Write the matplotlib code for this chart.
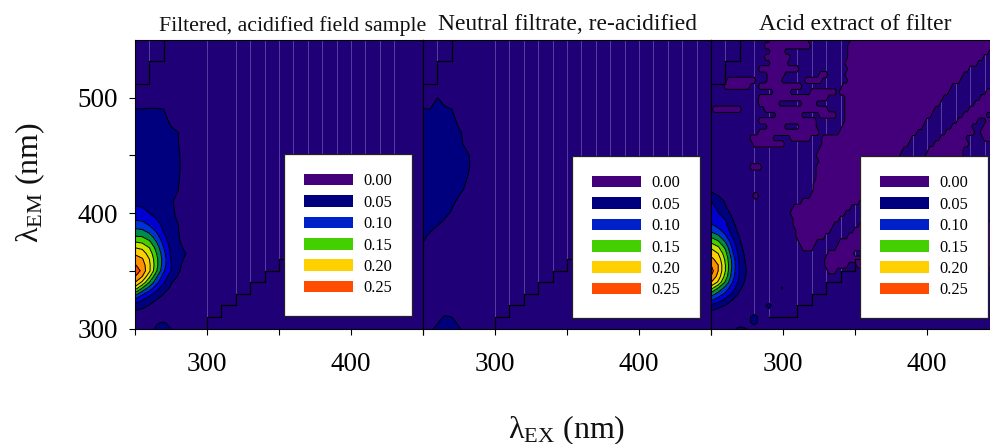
import numpy as np
import matplotlib
matplotlib.use("Agg")
import matplotlib.pyplot as plt
from matplotlib.patches import Patch

plt.rcParams['font.family'] = ['Liberation Serif', 'DejaVu Serif']
plt.rcParams['mathtext.fontset'] = 'custom'
plt.rcParams['mathtext.rm'] = 'Liberation Serif'
plt.rcParams['mathtext.it'] = 'Liberation Serif'

titles = ["Filtered, acidified field sample", "Neutral filtrate, re-acidified", "Acid extract of filter"]
legend_labels = ["0.00", "0.05", "0.10", "0.15", "0.20", "0.25"]
legend_colors = ["#44007a", "#00007f", "#0020c8", "#44d000", "#ffd000", "#ff4c00"]

levels = [0.05, 0.075, 0.10, 0.125, 0.15, 0.175, 0.20, 0.225, 0.25, 0.30]
band_colors = ["#00007f", "#0000d0", "#0030d8", "#008a50", "#44d000",
               "#c8e800", "#ffd000", "#ff9000", "#ff4c00"]
bg_color = "#1f0077"
zero_color = "#44007a"

# field sample, ex 250..290
ex_field = [250, 255, 260, 265, 270, 275, 280, 285, 290]
em_field = [300, 305, 310, 315, 320, 325, 330, 335, 340, 345, 350, 355, 360, 365, 370, 375, 380, 385,
            390, 395, 400, 410, 420, 430, 440, 450, 460, 470, 480, 490, 500, 510]
z_field = [
    [.030, .035, .040, .053, .056, .050, .030, .020, .020],
    [.030, .035, .040, .048, .052, .042, .030, .020, .020],
    [.036, .036, .036, .035, .034, .030, .025, .020, .020],
    [.048, .044, .040, .036, .032, .028, .025, .020, .020],
    [.066, .058, .049, .042, .036, .030, .026, .020, .020],
    [.095, .078, .062, .050, .042, .034, .028, .020, .020],
    [.140, .105, .085, .066, .050, .040, .030, .020, .020],
    [.190, .150, .115, .085, .060, .046, .036, .022, .020],
    [.225, .195, .150, .108, .078, .052, .040, .025, .020],
    [.250, .225, .180, .128, .088, .063, .048, .030, .020],
    [.270, .242, .205, .152, .103, .075, .053, .040, .020],
    [.252, .238, .205, .158, .110, .076, .056, .042, .020],
    [.235, .228, .200, .157, .112, .074, .058, .046, .022],
    [.222, .212, .190, .150, .108, .070, .059, .051, .025],
    [.200, .195, .175, .140, .100, .067, .057, .045, .022],
    [.175, .170, .155, .125, .090, .063, .054, .040, .020],
    [.150, .148, .135, .110, .080, .060, .052, .038, .020],
    [.132, .128, .115, .095, .072, .058, .051, .036, .020],
    [.110, .108, .098, .084, .068, .056, .050, .036, .020],
    [.097, .095, .085, .075, .065, .055, .048, .034, .020],
    [.085, .082, .075, .069, .062, .053, .047, .034, .020],
    [.070, .068, .064, .060, .056, .052, .046, .034, .020],
    [.066, .064, .062, .059, .056, .053, .050, .035, .020],
    [.064, .063, .061, .059, .057, .055, .052, .040, .020],
    [.062, .062, .060, .059, .057, .055, .053, .042, .020],
    [.060, .060, .059, .058, .057, .055, .053, .040, .020],
    [.058, .058, .057, .056, .055, .054, .051, .035, .020],
    [.056, .056, .056, .055, .054, .052, .050, .030, .020],
    [.053, .053, .054, .054, .053, .048, .030, .020, .020],
    [.051, .051, .052, .052, .050, .036, .020, .020, .020],
    [.025, .025, .030, .030, .025, .020, .020, .020, .020],
    [.020, .020, .020, .020, .020, .020, .020, .020, .020],
]

# neutral filtrate
ex_neutral = [250, 255, 260, 265, 270, 275, 280, 285, 290]
em_neutral = [300, 310, 320, 330, 340, 350, 360, 370, 380, 390, 400, 410, 420, 430, 440, 450,
              460, 470, 480, 490, 500, 510]
z_neutral = [
    [.030, .045, .055, .060, .060, .052, .040, .020, .020],
    [.020, .030, .042, .052, .050, .040, .025, .020, .020],
    [.020, .025, .030, .032, .030, .025, .020, .020, .020],
    [.030, .030, .030, .030, .030, .025, .020, .020, .020],
    [.032, .030, .030, .030, .030, .025, .020, .020, .020],
    [.035, .032, .030, .030, .030, .025, .020, .020, .020],
    [.040, .035, .030, .030, .030, .025, .020, .020, .020],
    [.047, .040, .035, .030, .030, .025, .020, .020, .020],
    [.054, .046, .040, .035, .030, .025, .020, .020, .020],
    [.062, .057, .051, .045, .035, .028, .020, .020, .020],
    [.068, .064, .060, .055, .048, .035, .025, .020, .020],
    [.070, .068, .065, .060, .054, .046, .030, .020, .020],
    [.070, .068, .066, .062, .058, .054, .047, .025, .020],
    [.070, .068, .066, .063, .060, .056, .051, .042, .020],
    [.068, .066, .065, .063, .060, .057, .054, .046, .020],
    [.066, .064, .063, .062, .060, .057, .053, .046, .020],
    [.064, .063, .062, .060, .058, .053, .047, .030, .020],
    [.062, .062, .060, .058, .056, .052, .046, .025, .020],
    [.058, .058, .058, .057, .055, .046, .030, .020, .020],
    [.051, .050, .055, .052, .050, .030, .020, .020, .020],
    [.020, .020, .050, .045, .030, .020, .020, .020, .020],
    [.020, .020, .020, .020, .020, .020, .020, .020, .020],
]

# acid extract, peak part
ex_acid = [250, 255, 260, 265, 270, 275, 280, 285, 290, 295, 300]
em_acid = [300, 305, 310, 315, 320, 325, 330, 335, 340, 345, 350, 355, 360, 365, 370, 375, 380, 385,
           390, 395, 400, 405, 410, 415, 420]
z_acid = [
    [.030, .030, .030, .045, .056, .050, .035, .030, .030, .030, .030],
    [.030, .030, .030, .030, .035, .040, .060, .035, .030, .030, .030],
    [.032, .030, .030, .030, .030, .035, .065, .035, .030, .030, .030],
    [.048, .040, .035, .030, .030, .030, .030, .030, .040, .030, .030],
    [.070, .060, .050, .040, .030, .030, .030, .030, .062, .030, .030],
    [.105, .090, .070, .050, .035, .030, .030, .030, .030, .030, .030],
    [.140, .115, .095, .070, .045, .030, .030, .030, .030, .030, .030],
    [.185, .150, .115, .085, .055, .035, .030, .030, .030, .030, .056],
    [.225, .195, .145, .100, .065, .040, .030, .030, .030, .030, .030],
    [.250, .215, .165, .110, .070, .045, .030, .030, .030, .030, .030],
    [.262, .225, .175, .115, .072, .048, .030, .030, .030, .030, .030],
    [.250, .225, .175, .118, .070, .046, .030, .030, .030, .030, .030],
    [.232, .215, .170, .115, .067, .042, .030, .030, .030, .030, .030],
    [.217, .200, .160, .105, .063, .040, .030, .030, .030, .030, .030],
    [.197, .180, .145, .095, .058, .036, .030, .030, .030, .030, .030],
    [.170, .155, .125, .085, .052, .033, .030, .030, .030, .030, .030],
    [.145, .130, .105, .072, .048, .030, .030, .030, .030, .030, .030],
    [.118, .108, .088, .064, .040, .030, .030, .030, .030, .030, .030],
    [.103, .090, .080, .057, .035, .030, .030, .030, .030, .030, .030],
    [.093, .083, .074, .050, .030, .030, .030, .030, .030, .030, .030],
    [.088, .076, .056, .046, .030, .030, .030, .030, .030, .030, .030],
    [.085, .068, .052, .040, .030, .030, .030, .030, .030, .030, .030],
    [.077, .062, .048, .036, .030, .030, .030, .030, .030, .030, .030],
    [.062, .050, .040, .030, .030, .030, .030, .030, .030, .030, .030],
    [.045, .035, .030, .030, .030, .030, .030, .030, .030, .030, .030],
]

# acid extract, ex ranges where the signal is below zero, per em row
acid_zero_spans = {
    550: [(292, 316), (347, 450)],
    545: [(288, 318), (345, 450)],
    540: [(292, 300), (346, 443)],
    535: [(288, 304), (346, 439)],
    530: [(292, 302), (344, 434)],
    525: [(284, 310), (345, 429)],
    520: [(290, 300), (326, 330), (344, 425)],
    515: [(262, 280), (290, 298), (316, 326), (345, 422)],
    510: [(260, 276), (284, 312), (342, 417), (446, 450)],
    505: [(294, 305), (320, 336), (340, 414), (441, 450)],
    500: [(284, 330), (344, 411), (438, 450)],
    495: [(284, 296), (314, 322), (344, 409), (434, 450)],
    490: [(252, 270), (288, 330), (344, 405), (430, 450)],
    485: [(296, 312), (326, 336), (344, 402), (426, 440), (445, 450)],
    480: [(284, 322), (344, 399), (422, 435), (442, 450)],
    475: [(290, 300), (312, 322), (342, 396), (418, 430), (440, 450)],
    470: [(284, 324), (340, 392), (414, 432), (438, 450)],
    465: [(278, 292), (306, 318), (328, 389), (410, 426), (440, 450)],
    460: [(280, 300), (327, 386), (405, 428)],
    455: [(325, 383), (401, 425)],
    450: [(324, 381), (399, 425)],
    445: [(325, 378), (396, 425)],
    440: [(278, 284), (324, 375)],
    435: [(323, 372)],
    430: [(323, 369)],
    425: [(322, 365)],
    420: [(322, 360)],
    415: [(280, 282), (320, 356)],
    410: [(313, 352)],
    405: [(307, 346)],
    400: [(306, 342)],
    395: [(307, 338)],
    390: [(307, 334), (354, 450)],
    385: [(309, 332), (350, 450)],
    380: [(309, 328), (345, 450)],
    375: [(311, 323), (340, 450)],
    370: [(313, 320), (337, 450)],
    365: [(331, 348), (356, 450)],
    360: [(329, 450)],
    355: [(329, 345), (352, 450)],
    350: [(331, 337)],
}
acid_em_rows = list(range(300, 555, 5))

# faint vertical lines and the stepped edges, in nm
faint_field = [260, 300, 320, 330, 340, 350, 360, 370, 380, 390, 400, 410, 420, 430]
faint_neutral = [260, 300, 310, 320, 330, 340, 350, 360, 370, 380, 390, 400, 410, 420, 430, 440]
faint_acid = [260, 270, 280, 290, 310, 320, 330, 340, 350, 390, 400, 410, 420, 430, 440]
stair_ex = [300, 300, 310, 320, 330, 340, 350, 360, 370]
stair_em = [300, 310, 320, 330, 340, 350, 360, 370, 380]
top_stair_ex = [250, 260, 270]
top_stair_em = [512, 532, 550]

W, H = 990, 444
fig = plt.figure(figsize=(W / 100, H / 100), dpi=100)

lefts = [135, 423, 711]
axes = []
for left in lefts:
    ax = fig.add_axes([left / W, 1 - 328.5 / H, 288 / W, 288.5 / H])
    ax.set_xlim(250, 450)
    ax.set_ylim(300, 550)
    ax.set_facecolor(bg_color)
    for s in ax.spines.values():
        s.set_linewidth(0.8)
        s.set_zorder(8)
    ax.set_xticks([250, 300, 350, 400, 450])
    ax.set_xticklabels(["", "300", "", "400", ""])
    ax.tick_params(axis='x', length=4, width=0.8, labelsize=19.5, pad=13)
    ax.set_yticks([])
    axes.append(ax)

ax1, ax2, ax3 = axes
ax1.set_yticks([300, 350, 400, 450, 500])
ax1.set_yticklabels(["300", "", "400", "", "500"])
ax1.tick_params(axis='y', length=4, width=0.8, labelsize=19.5, pad=8)


def faint_lines(ax, xs):
    for x in xs:
        low = max(x + 10, 310) if x >= 290 else 532 if x == 260 else 550 if x == 270 else 310
        ax.vlines(x, low, 550, color="#5f4aa8", lw=0.6, zorder=1)


def stairs(ax, first_ex=300):
    xs = list(stair_ex)
    ys = list(stair_em)
    if first_ex != 300:
        xs[0] = first_ex
        ys[0] = 310
    ax.step(xs, ys, where='post', color='k', lw=0.9, zorder=5)
    ax.step(top_stair_ex, top_stair_em, where='post', color='k', lw=0.9, zorder=5)


def peak(ax, ex, em, z):
    ax.contourf(ex, em, np.array(z), levels=levels, colors=band_colors, zorder=3)
    ax.contour(ex, em, np.array(z), levels=levels[:-1], colors='k', linewidths=0.7, zorder=4)


faint_lines(ax1, faint_field)
faint_lines(ax2, faint_neutral)
faint_lines(ax3, faint_acid)

peak(ax1, ex_field, em_field, z_field)
peak(ax2, ex_neutral, em_neutral, z_neutral)

# acid extract: zero region first, peak on top
ex_fine = np.arange(250, 451, 2)
z_low = np.full((len(acid_em_rows), len(ex_fine)), 0.01)
for i, em in enumerate(acid_em_rows):
    for a, b in acid_zero_spans.get(em, []):
        z_low[i, (ex_fine >= a) & (ex_fine <= b)] = -0.012
ax3.contourf(ex_fine, acid_em_rows, z_low, levels=[-1, 0], colors=[zero_color], zorder=2)
ax3.contour(ex_fine, acid_em_rows, z_low, levels=[0], colors='k', linewidths=0.7, zorder=2.5)
peak(ax3, ex_acid, em_acid, z_acid)

stairs(ax1)
stairs(ax2)
stairs(ax3, first_ex=290)

handles = [Patch(facecolor=c, edgecolor='none') for c in legend_colors]
legend_boxes = [(284, 316), (572, 318), (860, 318)]
for ax, (bx, by) in zip(axes, legend_boxes):
    leg = ax.legend(handles, legend_labels, loc='lower left',
                    bbox_to_anchor=(bx / W, 1 - by / H), bbox_transform=fig.transFigure,
                    fontsize=11.8, frameon=True, fancybox=False, framealpha=1,
                    facecolor='white', edgecolor='#222222', borderpad=1.2,
                    borderaxespad=0, handlelength=3.0, handleheight=0.72,
                    handletextpad=0.65, labelspacing=0.33)
    leg.get_frame().set_linewidth(0.9)
    leg.set_zorder(7)

title_x = [293, 567, 855]
title_size = [15.65, 16.9, 16.9]
for x, t, size in zip(title_x, titles, title_size):
    fig.text(x / W, 1 - 30.5 / H, t, ha='center', va='baseline', fontsize=size, color='#111111')

fig.text(30 / W, 1 - 183 / H, r"$\mathrm{\lambda_{EM}}$ (nm)", rotation=90, ha='center', va='center',
         fontsize=23, color='#111111')
fig.text(567 / W, 1 - 438 / H, r"$\mathrm{\lambda_{EX}}$ (nm)", ha='center', va='baseline',
         fontsize=23, color='#111111')

fig.savefig("out.png", dpi=100)
